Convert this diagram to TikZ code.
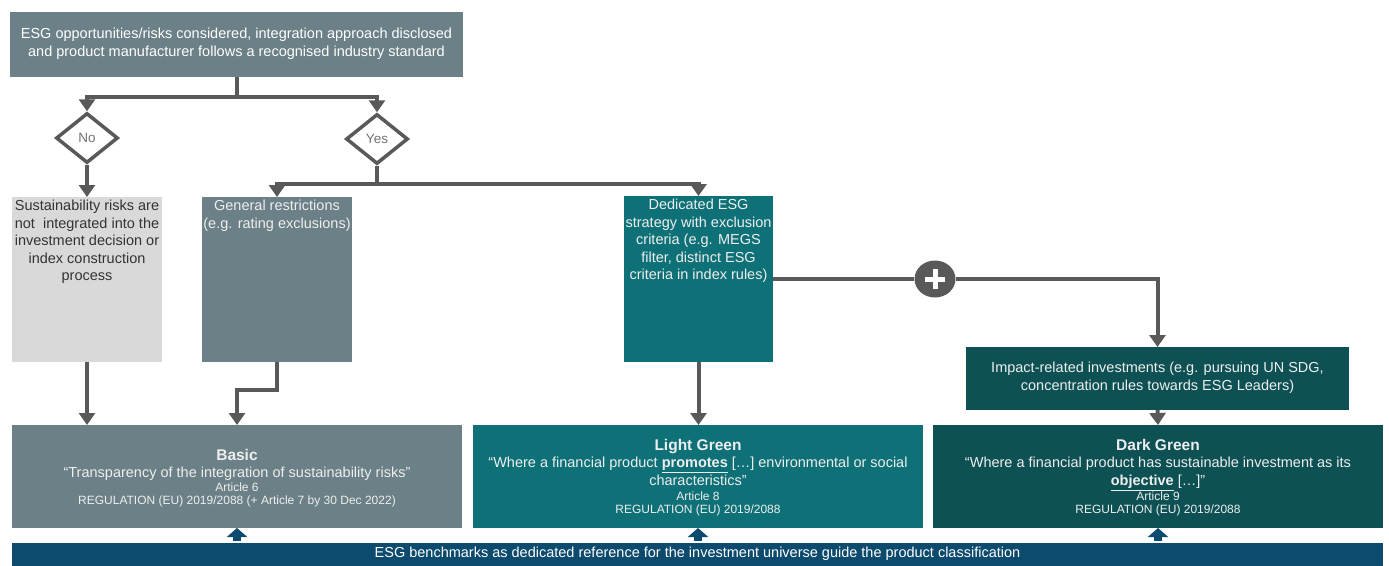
\documentclass[tikz,border=0pt]{standalone}
\usepackage{fontspec}
\setmainfont{Liberation Sans}
\usetikzlibrary{arrows.meta,shapes.geometric}
\definecolor{slate}{HTML}{6C8087}
\definecolor{lgray}{HTML}{D9D9D9}
\definecolor{tealA}{HTML}{0F7178}
\definecolor{tealB}{HTML}{0D5154}
\definecolor{navy}{HTML}{0C4A6E}
\definecolor{arr}{HTML}{595959}
\definecolor{txt}{HTML}{EEEEEE}
\newcommand{\fm}{\fontsize{14.5}{17.5}\selectfont}
\newcommand{\fb}{\fontsize{15.5}{17.5}\selectfont\bfseries}
\newcommand{\fsm}{\fontsize{12}{13}\selectfont}
\begin{document}
\begin{tikzpicture}[x=1pt,y=-1pt,
  box/.style={draw=none,inner sep=0pt,outer sep=0pt,anchor=north west},
  conn/.style={draw=arr,line width=4pt},
  arrow/.style={conn,-{Triangle[width=16pt,length=12pt]}},
  uparrow/.style={draw=navy,line width=8pt,-{Triangle[width=20pt,length=9pt]}},
  dia/.style={diamond,draw=arr,line width=3.5pt,fill=white,inner sep=0pt,
    minimum width=62pt,minimum height=50pt,text=arr!85,font=\fontsize{13.5}{15}\selectfont},
  lbl/.style={align=center,inner sep=0pt}
]
\useasboundingbox (0,0) rectangle (1389,565);

% boxes
\node[box,fill=slate,minimum width=453pt,minimum height=65pt] (top) at (10,12) {};
\node[lbl,text=white,font=\fm] (toptxt) at ([yshift=1pt]top.center)
  {ESG opportunities/risks considered, integration approach disclosed\\and product manufacturer follows a recognised industry standard};

\node[dia] (no) at (87,138) {No};
\node[dia] (yes) at (377,139) {Yes};

\node[box,fill=lgray,minimum width=150pt,minimum height=165pt] (gray) at (12,197) {};
\node[lbl,text=black!80,font=\fm,anchor=north] (graytxt) at ([yshift=-3pt]gray.north)
  {Sustainability risks are\\not\ \ integrated into the\\investment decision or\\index construction\\process};

\node[box,fill=slate,minimum width=150pt,minimum height=165pt] (gen) at (202,197) {};
\node[lbl,text=txt,font=\fm,anchor=north] (gentxt) at ([yshift=-3pt]gen.north)
  {General restrictions\\(e.g. rating exclusions)};

\node[box,fill=tealA,minimum width=149pt,minimum height=166pt] (ded) at (624,196) {};
\node[lbl,text=txt,font=\fm,anchor=north] (dedtxt) at ([yshift=-3pt]ded.north)
  {Dedicated ESG\\strategy with exclusion\\criteria (e.g. MEGS\\filter, distinct ESG\\criteria in index rules)};

\node[ellipse,fill=arr,minimum width=41pt,minimum height=37pt,inner sep=0pt] (plus) at (935,279) {};

\node[box,fill=tealB,minimum width=383pt,minimum height=63pt] (imp) at (966,347) {};
\node[lbl,text=txt,font=\fm] (imptxt) at ([yshift=1pt]imp.center)
  {Impact-related investments (e.g. pursuing UN SDG,\\concentration rules towards ESG Leaders)};

\node[box,fill=slate,minimum width=450pt,minimum height=103pt] (basic) at (12,425) {};
\node[lbl,text=txt,anchor=north,font=\fm] (basictxt) at ([yshift=-24pt]basic.north)
  {{\fb Basic}\\
   “Transparency of the integration of sustainability risks”\\[-4pt]
   {\fsm Article 6}\\[-4.5pt]
   {\fsm REGULATION (EU) 2019/2088 (+ Article 7 by 30 Dec 2022)}};

\node[box,fill=tealA,minimum width=450pt,minimum height=103pt] (light) at (473,425) {};
\node[lbl,text=txt,anchor=north,font=\fm] (lighttxt) at ([yshift=-14pt]light.north)
  {{\fb Light Green}\\
   “Where a financial product \underline{\textbf{promotes}} […] environmental or social\\
   characteristics”\\[-2.5pt]
   {\fsm Article 8}\\[-4.5pt]
   {\fsm REGULATION (EU) 2019/2088}};

\node[box,fill=tealB,minimum width=450pt,minimum height=103pt] (dark) at (933,425) {};
\node[lbl,text=txt,anchor=north,font=\fm] (darktxt) at ([yshift=-14pt]dark.north)
  {{\fb Dark Green}\\
   “Where a financial product has sustainable investment as its\\
   \underline{\textbf{objective}} […]”\\[-2.5pt]
   {\fsm Article 9}\\[-4.5pt]
   {\fsm REGULATION (EU) 2019/2088}};

\node[box,fill=navy,minimum width=1371pt,minimum height=24pt] (bench) at (12,543) {};
\node[lbl,text=white,font=\fm] (benchtxt) at ([yshift=1pt]bench.center)
  {ESG benchmarks as dedicated reference for the investment universe guide the product classification};

% connectors
\draw[conn] (top.south) -- ++(0,20) coordinate (j1);
\draw[arrow] (j1) -| (no.north);
\draw[arrow] (j1) -| (yes.north);
\draw[arrow] (no.south) -- (gray.north -| no.south);
\draw[conn] (yes.south) -- ++(0,18) coordinate (j2);
\draw[arrow] (j2) -| (gen.north);
\draw[arrow] (j2) -| (ded.north);
\draw[arrow] (gray.south -| no.south) -- (basic.north -| no.south);
\draw[arrow] (gen.south) -- ++(0,28) -| (basic.north);
\draw[arrow] (ded.south) -- (ded.south |- light.north);
\draw[conn] (ded.east) -- (plus.west);
\draw[arrow] (plus.east) -| (imp.north);
\draw[arrow] (imp.south) -- (dark.north);
\draw[white,line width=5pt] ([xshift=-10pt]plus.center) -- ([xshift=10pt]plus.center);
\draw[white,line width=5pt] ([yshift=-10pt]plus.center) -- ([yshift=10pt]plus.center);

\draw[uparrow] ([yshift=2pt]bench.north -| basic.south) -- (basic.south);
\draw[uparrow] ([yshift=2pt]bench.north -| light.south) -- (light.south);
\draw[uparrow] ([yshift=2pt]bench.north -| dark.south) -- (dark.south);
\end{tikzpicture}
\end{document}
